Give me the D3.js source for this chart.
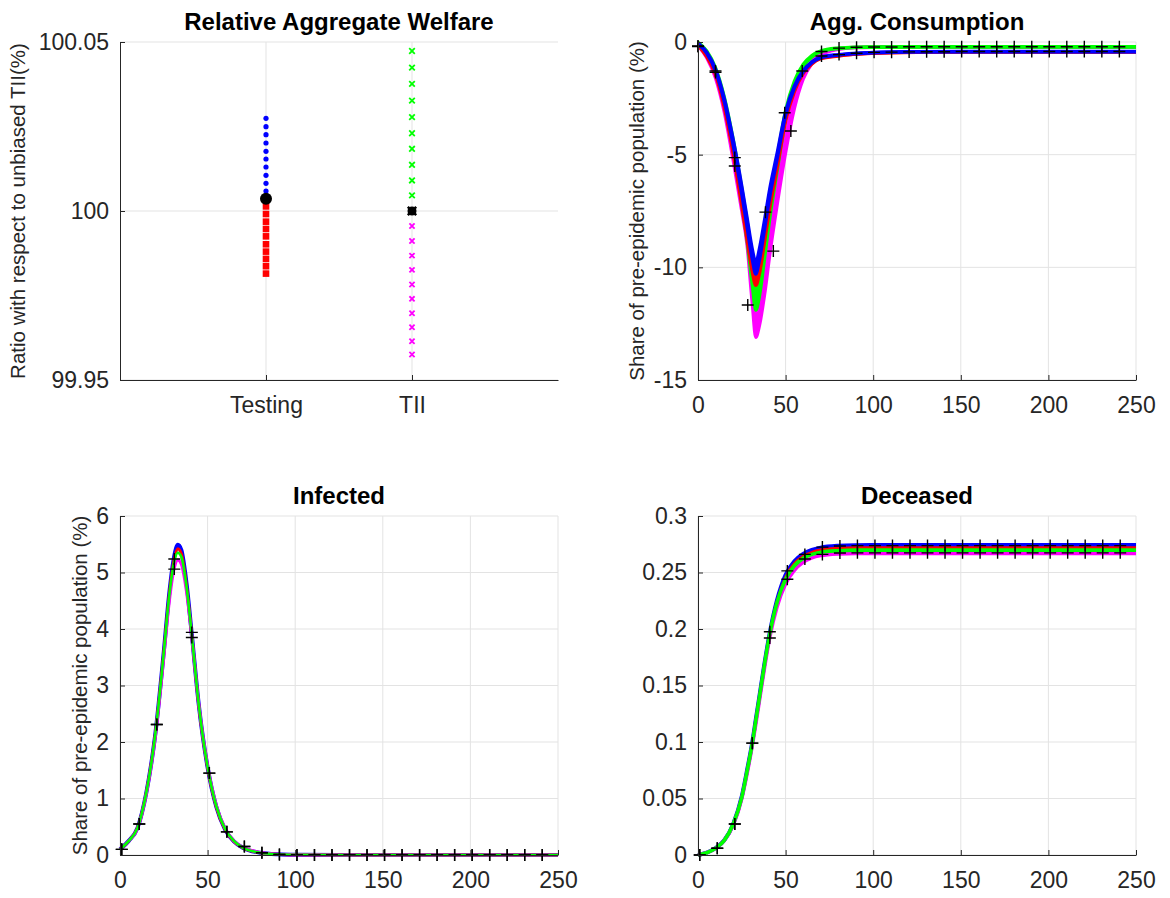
<!DOCTYPE html>
<html><head><meta charset="utf-8">
<script src="https://cdn.jsdelivr.net/npm/d3@7"></script>
<style>
body{margin:0;background:#fff}
svg{display:block}
text{font-family:"Liberation Sans",Arial,Helvetica,sans-serif}
</style>
</head><body>
<svg id="c" width="1170" height="898"></svg>
<script>
// ---------------- DATA ----------------
// Panel 1: Relative Aggregate Welfare
const welfareCats = ["Testing", "TII"];
const welfareTicks = [99.95, 100, 100.05];
const welfareTickLabels = ["99.95", "100", "100.05"];
const testingBlue = [100.02743, 100.02494, 100.02257, 100.02012, 100.01766, 100.01538, 100.01302, 100.01056, 100.00820, 100.00592];
const testingRed = [100.00136, 99.99911, 99.99684, 99.99468, 99.99250, 99.99016, 99.98798, 99.98583, 99.98367, 99.98148];
const testingBlack = 100.00363;
const tiiGreen = [100.04734, 100.04241, 100.03760, 100.03266, 100.02776, 100.02301, 100.01840, 100.01367, 100.00904, 100.00461];
const tiiMagenta = [99.99557, 99.99114, 99.98680, 99.98258, 99.97823, 99.97401, 99.96976, 99.96562, 99.96149, 99.95756];
const tiiBlack = 100.0;

// Time grid shared by the three time-series panels
const days = [0, 5, 10, 15, 20, 25, 28, 31, 33, 35, 38, 41, 45, 50, 55, 60, 65, 70, 80, 90, 100, 125, 150, 175, 200, 225, 250];
const timeTicks = [0, 50, 100, 150, 200, 250];

// Panel 2: Agg. Consumption (upper / lower edge of each colour band)
const consTicks = [-15, -10, -5, 0];
const consBlueHi = [-0.05, -0.45, -1.2, -2.5, -4.3, -6.4, -7.8, -9.2, -9.8, -9.2, -7.9, -6.5, -5.0, -3.1, -1.95, -1.27, -0.88, -0.67, -0.56, -0.5, -0.46, -0.43, -0.42, -0.42, -0.42, -0.42, -0.42];
const consBlueLo = [-0.1, -0.5, -1.3, -2.65, -4.55, -6.75, -8.2, -9.65, -10.3, -9.7, -8.3, -6.85, -5.25, -3.25, -2.05, -1.33, -0.92, -0.7, -0.58, -0.52, -0.48, -0.44, -0.43, -0.43, -0.43, -0.43, -0.43];
const consRedHi = [-0.1, -0.55, -1.35, -2.75, -4.7, -6.95, -8.4, -9.75, -10.3, -9.8, -8.45, -7.0, -5.4, -3.35, -2.1, -1.35, -0.94, -0.72, -0.6, -0.53, -0.49, -0.45, -0.44, -0.44, -0.44, -0.44, -0.44];
const consRedLo = [-0.15, -0.65, -1.45, -2.9, -4.9, -7.25, -8.75, -10.2, -10.8, -10.3, -8.85, -7.35, -5.65, -3.5, -2.2, -1.4, -0.97, -0.74, -0.62, -0.54, -0.5, -0.46, -0.45, -0.45, -0.45, -0.45, -0.45];
const consGreenHi = [-0.02, -0.4, -1.15, -2.45, -4.3, -6.5, -7.95, -9.5, -10.3, -9.75, -8.35, -6.85, -5.2, -3.05, -1.75, -1.0, -0.6, -0.4, -0.27, -0.23, -0.22, -0.21, -0.21, -0.21, -0.21, -0.21, -0.21];
const consGreenLo = [-0.05, -0.5, -1.3, -2.75, -4.8, -7.2, -8.8, -10.8, -11.9, -11.3, -9.6, -7.8, -5.8, -3.45, -1.95, -1.1, -0.66, -0.43, -0.29, -0.24, -0.23, -0.22, -0.22, -0.22, -0.22, -0.22, -0.22];
const consMagentaHi = [-0.1, -0.6, -1.45, -2.95, -5.0, -7.2, -8.6, -10.2, -11.0, -10.6, -9.3, -7.8, -6.1, -4.2, -2.5, -1.45, -0.85, -0.52, -0.3, -0.24, -0.22, -0.22, -0.21, -0.21, -0.21, -0.21, -0.21];
const consMagentaLo = [-0.15, -0.7, -1.6, -3.1, -5.2, -7.5, -9.0, -11.6, -13.1, -12.6, -11.2, -9.4, -7.3, -4.9, -2.95, -1.65, -0.95, -0.58, -0.33, -0.25, -0.23, -0.22, -0.22, -0.22, -0.22, -0.22, -0.22];
const consMarkA_t = [0, 10, 21, 38.5, 49.5, 59.5, 70.5, 80.5, 90.5, 100.5, 110.5, 120.5, 130.5, 140.5, 150.5, 160.5, 170.5, 180.5, 190.5, 200.5, 210.5, 220.5, 230.5, 240.5];
const consMarkA = [-0.18, -1.29, -5.13, -7.55, -3.14, -1.29, -0.62, -0.56, -0.5, -0.46, -0.45, -0.44, -0.43, -0.43, -0.42, -0.42, -0.42, -0.42, -0.42, -0.42, -0.42, -0.42, -0.42, -0.42];
const consMarkB_t = [0, 10, 21, 28.4, 43, 53, 70.5, 80.5, 90.5, 100.5, 110.5, 120.5, 130.5, 140.5, 150.5, 160.5, 170.5, 180.5, 190.5, 200.5, 210.5, 220.5, 230.5, 240.5];
const consMarkB = [-0.2, -1.35, -5.5, -11.67, -9.28, -3.95, -0.42, -0.27, -0.23, -0.22, -0.22, -0.21, -0.21, -0.21, -0.21, -0.21, -0.21, -0.21, -0.21, -0.21, -0.21, -0.21, -0.21, -0.21];

// Panel 3: Infected
const infTicks = [0, 1, 2, 3, 4, 5, 6];
const infBlue = [0.1, 0.25, 0.48, 1.1, 2.1, 3.6, 4.6, 5.3, 5.49, 5.4, 4.8, 3.9, 2.65, 1.55, 0.85, 0.45, 0.24, 0.13, 0.04, 0.012, 0.004, 0, 0, 0, 0, 0, 0];
const infRed = [0.1, 0.25, 0.48, 1.1, 2.1, 3.58, 4.57, 5.24, 5.42, 5.33, 4.75, 3.88, 2.64, 1.55, 0.85, 0.45, 0.24, 0.13, 0.04, 0.012, 0.004, 0, 0, 0, 0, 0, 0];
const infGreen = [0.1, 0.25, 0.48, 1.1, 2.1, 3.58, 4.56, 5.2, 5.35, 5.28, 4.74, 3.88, 2.65, 1.56, 0.86, 0.46, 0.25, 0.13, 0.04, 0.012, 0.004, 0, 0, 0, 0, 0, 0];
const infMagenta = [0.1, 0.25, 0.47, 1.08, 2.05, 3.5, 4.45, 5.08, 5.22, 5.15, 4.65, 3.85, 2.66, 1.58, 0.88, 0.47, 0.25, 0.14, 0.045, 0.013, 0.004, 0, 0, 0, 0, 0, 0];
const markT = [1, 11, 21, 31, 41, 51, 61, 71, 81, 91, 101, 111, 121, 131, 141, 151, 161, 171, 181, 191, 201, 211, 221, 231, 241];
const infMarkA = [0.1, 0.55, 2.31, 5.24, 3.94, 1.45, 0.41, 0.15, 0.04, 0.01, 0, 0, 0, 0, 0, 0, 0, 0, 0, 0, 0, 0, 0, 0, 0];
const infMarkB = [0.1, 0.55, 2.31, 5.06, 3.85, 1.45, 0.41, 0.15, 0.04, 0.01, 0, 0, 0, 0, 0, 0, 0, 0, 0, 0, 0, 0, 0, 0, 0];

// Panel 4: Deceased
const decTicks = [0, 0.05, 0.1, 0.15, 0.2, 0.25, 0.3];
const decTickLabels = ["0", "0.05", "0.1", "0.15", "0.2", "0.25", "0.3"];
const decBlue = [0, 0.002, 0.006, 0.013, 0.027, 0.052, 0.075, 0.1, 0.12, 0.14, 0.17, 0.197, 0.225, 0.248, 0.26, 0.2665, 0.27, 0.272, 0.2737, 0.2742, 0.2743, 0.2743, 0.2743, 0.2743, 0.2743, 0.2743, 0.2743];
const decRed = [0, 0.002, 0.006, 0.013, 0.027, 0.052, 0.075, 0.1, 0.12, 0.14, 0.17, 0.196, 0.224, 0.246, 0.258, 0.2645, 0.268, 0.27, 0.2715, 0.272, 0.272, 0.272, 0.272, 0.272, 0.272, 0.272, 0.272];
const decGreen = [0, 0.002, 0.006, 0.013, 0.027, 0.051, 0.074, 0.099, 0.119, 0.139, 0.169, 0.196, 0.223, 0.244, 0.256, 0.2625, 0.266, 0.268, 0.2693, 0.2698, 0.2698, 0.2698, 0.2698, 0.2698, 0.2698, 0.2698, 0.2698];
const decMagenta = [0, 0.002, 0.006, 0.013, 0.026, 0.05, 0.072, 0.097, 0.116, 0.136, 0.166, 0.193, 0.219, 0.24, 0.252, 0.259, 0.263, 0.265, 0.2665, 0.2669, 0.2669, 0.2669, 0.2669, 0.2669, 0.2669, 0.2669, 0.2669];
const decMarkA = [0, 0.006, 0.0275, 0.099, 0.1976, 0.2514, 0.266, 0.2725, 0.2735, 0.2738, 0.2738, 0.2738, 0.2738, 0.2738, 0.2738, 0.2738, 0.2738, 0.2738, 0.2738, 0.2738, 0.2738, 0.2738, 0.2738, 0.2738, 0.2738];
const decMarkB = [0, 0.006, 0.0275, 0.099, 0.192, 0.244, 0.262, 0.266, 0.2672, 0.2674, 0.2674, 0.2674, 0.2674, 0.2674, 0.2674, 0.2674, 0.2674, 0.2674, 0.2674, 0.2674, 0.2674, 0.2674, 0.2674, 0.2674, 0.2674];

// ---------------- DRAWING ----------------
const svg = d3.select("#c");
const AX = "#262626", GRID = "#e3e3e3";
const C = {blue: "#0000ff", red: "#ff0000", green: "#00ff00", magenta: "#ff00ff", black: "#000000"};
const TICKFONT = 23, LABFONT = 20.5, TITLEFONT = 24;

const P = {
  tl: {l: 120, r: 558, t: 42, b: 380},
  tr: {l: 698, r: 1136, t: 42, b: 380},
  bl: {l: 120, r: 558, t: 516, b: 855},
  br: {l: 698, r: 1136, t: 516, b: 855}
};

function frame(p, x, y, xt, xlab, yt, ylab, title, ylabel, ylabX) {
  const g = svg.append("g");
  g.append("g").selectAll("line").data(xt).join("line")
    .attr("x1", d => x(d)).attr("x2", d => x(d)).attr("y1", p.t).attr("y2", p.b)
    .attr("stroke", GRID).attr("stroke-width", 1);
  g.append("g").selectAll("line").data(yt).join("line")
    .attr("x1", p.l).attr("x2", p.r).attr("y1", d => y(d)).attr("y2", d => y(d))
    .attr("stroke", GRID).attr("stroke-width", 1);
  const plot = svg.append("g");
  const axes = svg.append("g");
  const xa = axes.append("g").attr("transform", `translate(0,${p.b})`)
    .call(d3.axisBottom(x).tickValues(xt).tickFormat((d, i) => xlab[i]).tickSizeInner(-5).tickSizeOuter(0).tickPadding(17));
  const ya = axes.append("g").attr("transform", `translate(${p.l},0)`)
    .call(d3.axisLeft(y).tickValues(yt).tickFormat((d, i) => ylab[i]).tickSizeInner(-5).tickSizeOuter(0).tickPadding(11));
  [xa, ya].forEach(a => {
    a.select(".domain").attr("stroke", AX).attr("stroke-width", 1);
    a.selectAll(".tick line").attr("stroke", AX);
    a.selectAll("text").attr("fill", AX).style("font-size", TICKFONT + "px")
      .style("font-family", '"Liberation Sans",Arial,sans-serif');
  });
  svg.append("text").attr("x", (p.l + p.r) / 2).attr("y", p.t - 12)
    .attr("text-anchor", "middle").style("font-size", TITLEFONT + "px").style("font-weight", "bold")
    .attr("fill", "#000").text(title);
  if (ylabel) {
    svg.append("text").attr("transform", `translate(${ylabX},${(p.t + p.b) / 2}) rotate(-90)`)
      .attr("text-anchor", "middle").style("font-size", LABFONT + "px").attr("fill", AX).text(ylabel);
  }
  return plot;
}

function plusMarks(g, xs, ys, x, y) {
  g.append("g").selectAll("path").data(xs).join("path")
    .attr("d", (d, i) => `M${x(d) - 6},${y(ys[i])}H${x(d) + 6}M${x(d)},${y(ys[i]) - 6}V${y(ys[i]) + 6}`)
    .attr("stroke", C.black).attr("stroke-width", 1.4).attr("fill", "none");
}

// ---- Panel 1: Welfare ----
{
  const p = P.tl;
  const x = d3.scaleLinear().domain([0, 3]).range([p.l, p.r]);
  const y = d3.scaleLinear().domain([99.95, 100.05]).range([p.b, p.t]);
  const g = frame(p, x, y, [1, 2], welfareCats, welfareTicks, welfareTickLabels,
    "Relative Aggregate Welfare", "Ratio with respect to unbiased TII(%)", 25);
  const xT = x(1), xI = x(2);
  g.selectAll(".rb").data(testingBlue).join("circle").attr("cx", xT).attr("cy", d => y(d)).attr("r", 2.6).attr("fill", C.blue);
  g.selectAll(".rr").data(testingRed).join("rect").attr("x", xT - 3.3).attr("y", d => y(d) - 3.3).attr("width", 6.6).attr("height", 6.6).attr("fill", C.red);
  g.append("circle").attr("cx", xT).attr("cy", y(testingBlack)).attr("r", 6).attr("fill", C.black);
  const xpath = (cx, cy, s) => `M${cx - s},${cy - s}L${cx + s},${cy + s}M${cx - s},${cy + s}L${cx + s},${cy - s}`;
  g.append("g").selectAll("path").data(tiiGreen).join("path").attr("d", d => xpath(xI, y(d), 2.8)).attr("stroke", C.green).attr("stroke-width", 1.8);
  g.append("g").selectAll("path").data(tiiMagenta).join("path").attr("d", d => xpath(xI, y(d), 2.6)).attr("stroke", C.magenta).attr("stroke-width", 1.8);
  g.append("circle").attr("cx", xI).attr("cy", y(tiiBlack)).attr("r", 4.5).attr("fill", C.black);
  g.append("path").attr("d", xpath(xI, y(tiiBlack), 4.2)).attr("stroke", C.black).attr("stroke-width", 2.5);
}

// ---- Panel 2: Consumption ----
{
  const p = P.tr;
  const x = d3.scaleLinear().domain([0, 250]).range([p.l, p.r]);
  const y = d3.scaleLinear().domain([-15, 0]).range([p.b, p.t]);
  const g = frame(p, x, y, timeTicks, timeTicks.map(String), consTicks, consTicks.map(String),
    "Agg. Consumption", "Share of pre-epidemic population (%)", 644);
  const bands = [
    [consMagentaHi, consMagentaLo, C.magenta],
    [consGreenHi, consGreenLo, C.green],
    [consRedHi, consRedLo, C.red],
    [consBlueHi, consBlueLo, C.blue]
  ];
  bands.forEach(([hi, lo, col]) => {
    const area = d3.area().x((d, i) => x(days[i])).y0((d, i) => y(lo[i])).y1((d, i) => y(hi[i])).curve(d3.curveMonotoneX);
    g.append("path").datum(hi).attr("d", area).attr("fill", col);
    [hi, lo].forEach(arr => {
      const line = d3.line().x((d, i) => x(days[i])).y(d => y(d)).curve(d3.curveMonotoneX);
      g.append("path").datum(arr).attr("d", line).attr("fill", "none").attr("stroke", col)
        .attr("stroke-width", 3.4).attr("stroke-linejoin", "round");
    });
  });
  plusMarks(g, consMarkA_t, consMarkA, x, y);
  plusMarks(g, consMarkB_t, consMarkB, x, y);
}

// ---- Panel 3: Infected ----
{
  const p = P.bl;
  const x = d3.scaleLinear().domain([0, 250]).range([p.l, p.r]);
  const y = d3.scaleLinear().domain([0, 6]).range([p.b, p.t]);
  const g = frame(p, x, y, timeTicks, timeTicks.map(String), infTicks, infTicks.map(String),
    "Infected", "Share of pre-epidemic population (%)", 87);
  const line = d3.line().x((d, i) => x(days[i])).y(d => y(d)).curve(d3.curveMonotoneX);
  [[infBlue, C.blue, 4], [infRed, C.red, 3], [infMagenta, C.magenta, 3], [infGreen, C.green, 2.6]].forEach(([arr, col, w]) => {
    g.append("path").datum(arr).attr("d", line).attr("fill", "none").attr("stroke", col).attr("stroke-width", w);
  });
  plusMarks(g, markT, infMarkA, x, y);
  plusMarks(g, markT, infMarkB, x, y);
}

// ---- Panel 4: Deceased ----
{
  const p = P.br;
  const x = d3.scaleLinear().domain([0, 250]).range([p.l, p.r]);
  const y = d3.scaleLinear().domain([0, 0.3]).range([p.b, p.t]);
  const g = frame(p, x, y, timeTicks, timeTicks.map(String), decTicks, decTickLabels,
    "Deceased", null, 0);
  const line = d3.line().x((d, i) => x(days[i])).y(d => y(d)).curve(d3.curveMonotoneX);
  [[decBlue, C.blue, 4], [decRed, C.red, 2.6], [decMagenta, C.magenta, 3.6], [decGreen, C.green, 3.6]].forEach(([arr, col, w]) => {
    g.append("path").datum(arr).attr("d", line).attr("fill", "none").attr("stroke", col).attr("stroke-width", w);
  });
  plusMarks(g, markT, decMarkA, x, y);
  plusMarks(g, markT, decMarkB, x, y);
}
</script>
</body></html>
